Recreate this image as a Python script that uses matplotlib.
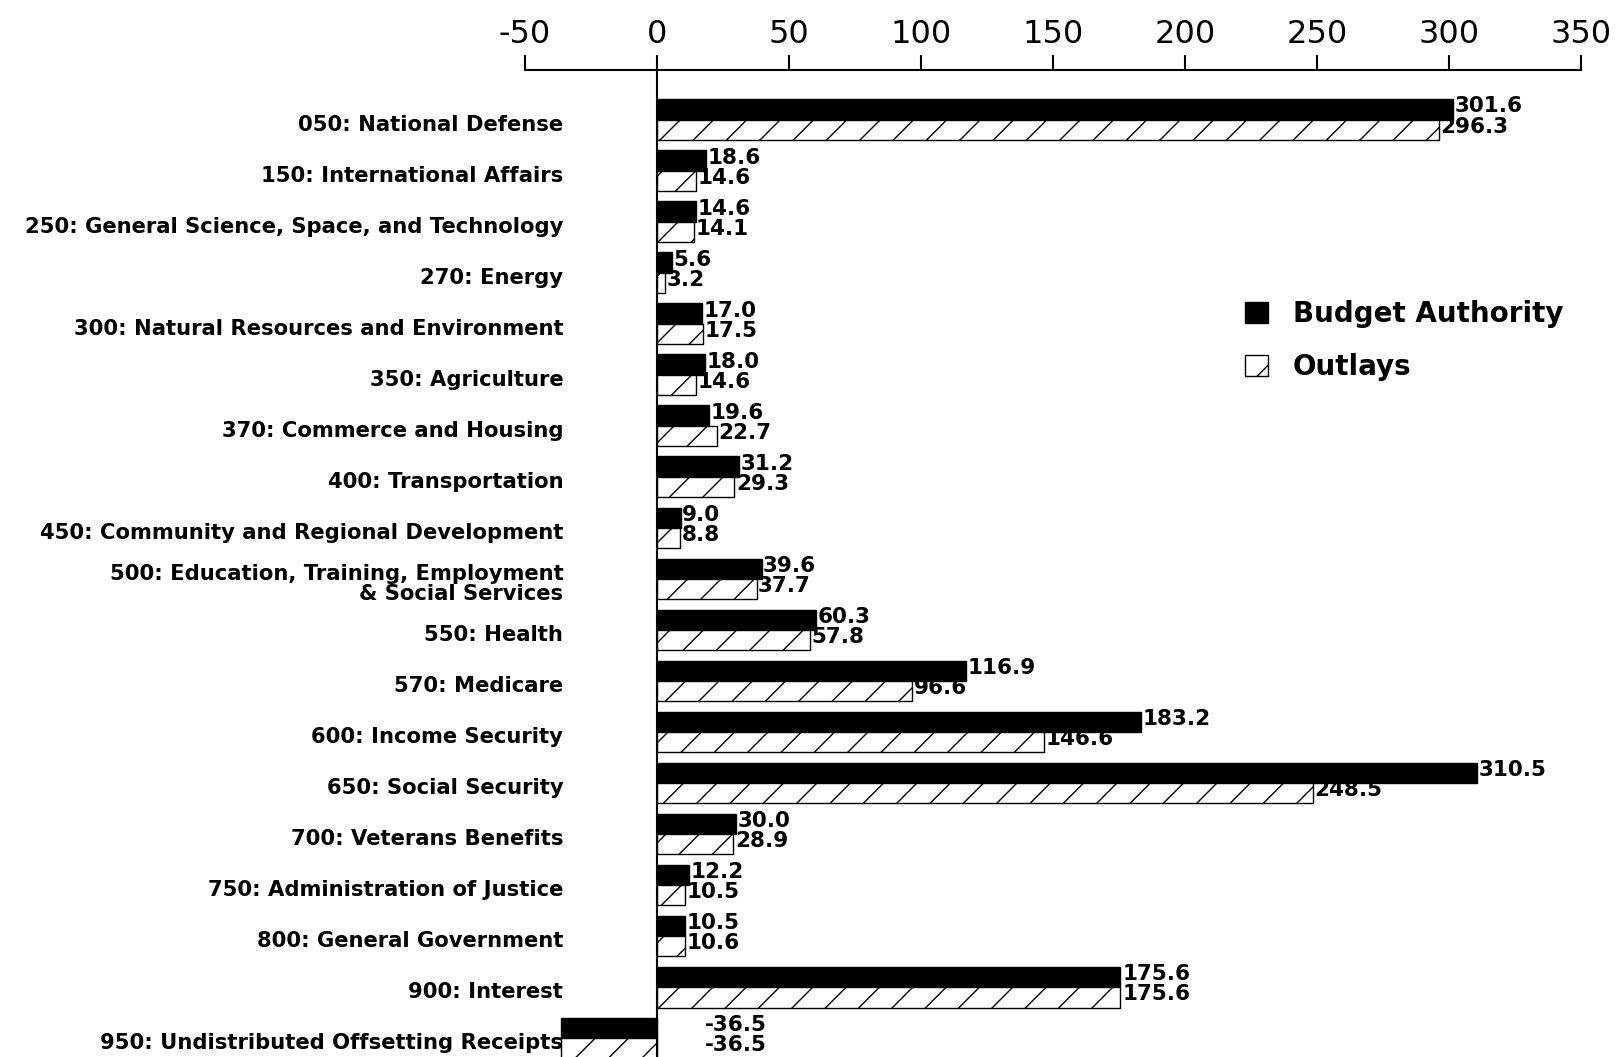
import matplotlib
matplotlib.use("Agg")
import matplotlib.pyplot as plt
import numpy as np
from matplotlib.patches import Patch

categories = [
    "050: National Defense",
    "150: International Affairs",
    "250: General Science, Space, and Technology",
    "270: Energy",
    "300: Natural Resources and Environment",
    "350: Agriculture",
    "370: Commerce and Housing",
    "400: Transportation",
    "450: Community and Regional Development",
    "500: Education, Training, Employment\n& Social Services",
    "550: Health",
    "570: Medicare",
    "600: Income Security",
    "650: Social Security",
    "700: Veterans Benefits",
    "750: Administration of Justice",
    "800: General Government",
    "900: Interest",
    "950: Undistributed Offsetting Receipts",
]
budget_authority = [301.6, 18.6, 14.6, 5.6, 17.0, 18.0, 19.6, 31.2, 9.0, 39.6,
                    60.3, 116.9, 183.2, 310.5, 30.0, 12.2, 10.5, 175.6, -36.5]
outlays = [296.3, 14.6, 14.1, 3.2, 17.5, 14.6, 22.7, 29.3, 8.8, 37.7,
           57.8, 96.6, 146.6, 248.5, 28.9, 10.5, 10.6, 175.6, -36.5]
xticks = [-50, 0, 50, 100, 150, 200, 250, 300, 350]
series_names = ["Budget Authority", "Outlays"]

plt.rcParams['font.family'] = ['DejaVu Sans']
plt.rcParams['hatch.linewidth'] = 1.0

fig = plt.figure(figsize=(16.23, 10.57), dpi=100)
ax = fig.add_axes([0.3235, 0.0, 0.6505, 0.934])

y = np.arange(len(categories))
h = 0.40
ax.barh(y - h / 2, budget_authority, height=h, color='black', edgecolor='black', linewidth=1)
ax.barh(y + h / 2, outlays, height=h, color='white', edgecolor='black', linewidth=1, hatch='/')

ax.set_xlim(-50, 350)
ax.set_ylim(len(categories) - 1 + 0.37, -0.98)
ax.axvline(0, color='black', lw=1.5, zorder=3)

for s in ['bottom', 'left', 'right']:
    ax.spines[s].set_visible(False)
ax.spines['top'].set_linewidth(1.5)
ax.xaxis.tick_top()
ax.set_xticks(xticks)
ax.set_xticklabels([str(t) for t in xticks], fontsize=23)
ax.tick_params(axis='x', direction='out', length=11, width=1.5, pad=3)
ax.set_yticks([])

vfs = 15.5
for i, (b, o) in enumerate(zip(budget_authority, outlays)):
    bx = b + 0.6 if b >= 0 else 18
    ox = o + 0.6 if o >= 0 else 18
    ax.text(bx, i - h / 2 - 0.06, f"{b:.1f}", ha='left', va='center', fontsize=vfs, fontweight='bold')
    ax.text(ox, i + h / 2 - 0.06, f"{o:.1f}", ha='left', va='center', fontsize=vfs, fontweight='bold')

for i, c in enumerate(categories):
    ax.text(-35.5, i + 0.1, c, ha='right', va='center', fontsize=15.2,
            multialignment='right', fontweight='bold', linespacing=1.0)

handles = [Patch(facecolor='black', edgecolor='black'),
           Patch(facecolor='white', edgecolor='black', hatch='/')]
fig.legend(handles, series_names, loc='upper left', bbox_to_anchor=(0.752, 0.74),
           frameon=False, handlelength=0.8, handleheight=0.8,
           labelspacing=0.9, handletextpad=0.9,
           prop={'size': 20, 'weight': 'bold'})

fig.savefig("out.png", dpi=100, facecolor='white')
